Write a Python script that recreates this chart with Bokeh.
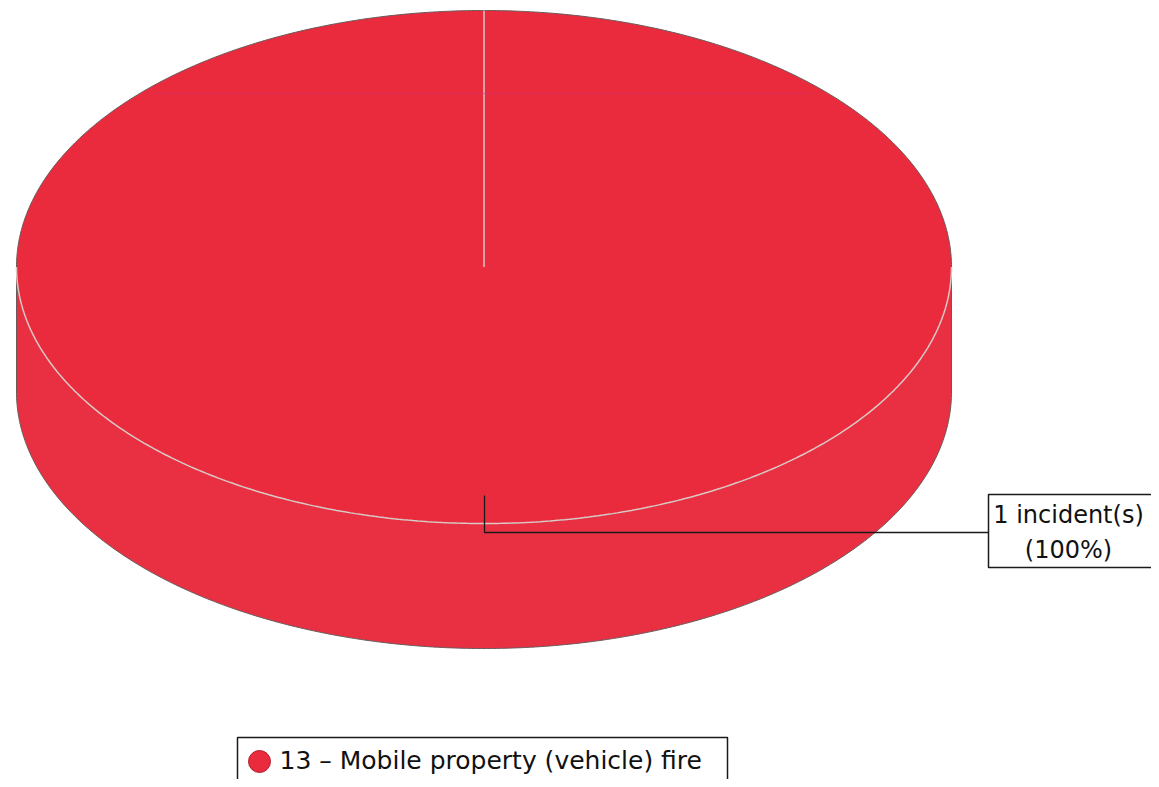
import numpy as np
from bokeh.plotting import figure
from bokeh.models import Range1d
from bokeh.core.properties import value
from bokeh.embed import file_html
from bokeh.resources import INLINE

# ---- data ----
categories = ["13 \u2013 Mobile property (vehicle) fire"]
counts = [1]
colors = ["#EA2B3D"]
side_colors = ["#E93043"]

total = sum(counts)
pcts = [c / total * 100 for c in counts]

# ---- layout (image pixel coordinates) ----
W, H = 1151, 779
p = figure(width=W, height=H, output_backend="svg", toolbar_location=None,
           x_range=Range1d(0, W), y_range=Range1d(H, 0),
           min_border=0, outline_line_color=None)
p.axis.visible = False
p.grid.visible = False
p.background_fill_color = "white"

cx, cy, rx, ry, depth = 483.5, 266.5, 467.5, 256.5, 125.0

# angles of slices (clockwise from 12 o'clock)
start = -np.pi / 2
for cnt, col, scol in zip(counts, colors, side_colors):
    frac = cnt / total
    end = start + 2 * np.pi * frac
    # side (front half of the cylinder)
    t = np.linspace(0, np.pi, 300)
    xs_top = cx + rx * np.cos(t)
    ys_top = cy + ry * np.sin(t)
    side_x = np.concatenate([xs_top, xs_top[::-1]])
    side_y = np.concatenate([ys_top, ys_top[::-1] + depth])
    p.patch(side_x, side_y, fill_color=scol, line_color="#6a5a5a", line_width=1)
    # top face
    tt = np.linspace(start, end, 600)
    top_x = np.concatenate([[cx], cx + rx * np.cos(tt), [cx]])
    top_y = np.concatenate([[cy], cy + ry * np.sin(tt), [cy]])
    p.patch(top_x, top_y, fill_color=col, line_color=None)
    # back rim (dark) and front rim (light)
    tb = np.linspace(np.pi, 2 * np.pi, 300)
    p.line(cx + rx * np.cos(tb), cy + ry * np.sin(tb), line_color="#6a5a5a", line_width=1)
    p.line(xs_top, ys_top, line_color="#dcc8c4", line_width=1.5)
    # slice boundary from center
    p.line([cx, cx + rx * np.cos(start)], [cy, cy + ry * np.sin(start)],
           line_color="#dcc8c4", line_width=1.5)
    start = end

# faint scan line
p.line([150, 810], [93, 93], line_color="#d0307a", line_width=1, alpha=0.5)

# ---- callout ----
lx0, ly0, ly1, lx1 = 484, 495, 532, 988
p.line([lx0, lx0, lx1], [ly0, ly1, ly1], line_color="#1a1a1a", line_width=1.3)
p.quad(left=988, right=1175, top=494, bottom=567, fill_color="white",
       line_color="#1a1a1a", line_width=1.5)
p.text(x=[1068, 1068], y=[514, 549],
       text=[f"{counts[0]} incident(s)", f"({pcts[0]:.0f}%)"],
       text_font=value("DejaVu Sans"), text_font_size="24px",
       text_align="center", text_baseline="middle", text_color="#111111")

# ---- legend ----
p.quad(left=237, right=727, top=737, bottom=800, fill_color="white",
       line_color="#1a1a1a", line_width=1.5)
p.scatter(x=[259], y=[761], size=22, marker="circle", fill_color=colors[0],
          line_color="#b02030", line_width=1)
p.text(x=[279], y=[760], text=[categories[0]],
       text_font=value("DejaVu Sans"), text_font_size="25px",
       text_align="left", text_baseline="middle", text_color="#111111")

open("out.html", "w").write(file_html(p, INLINE))
